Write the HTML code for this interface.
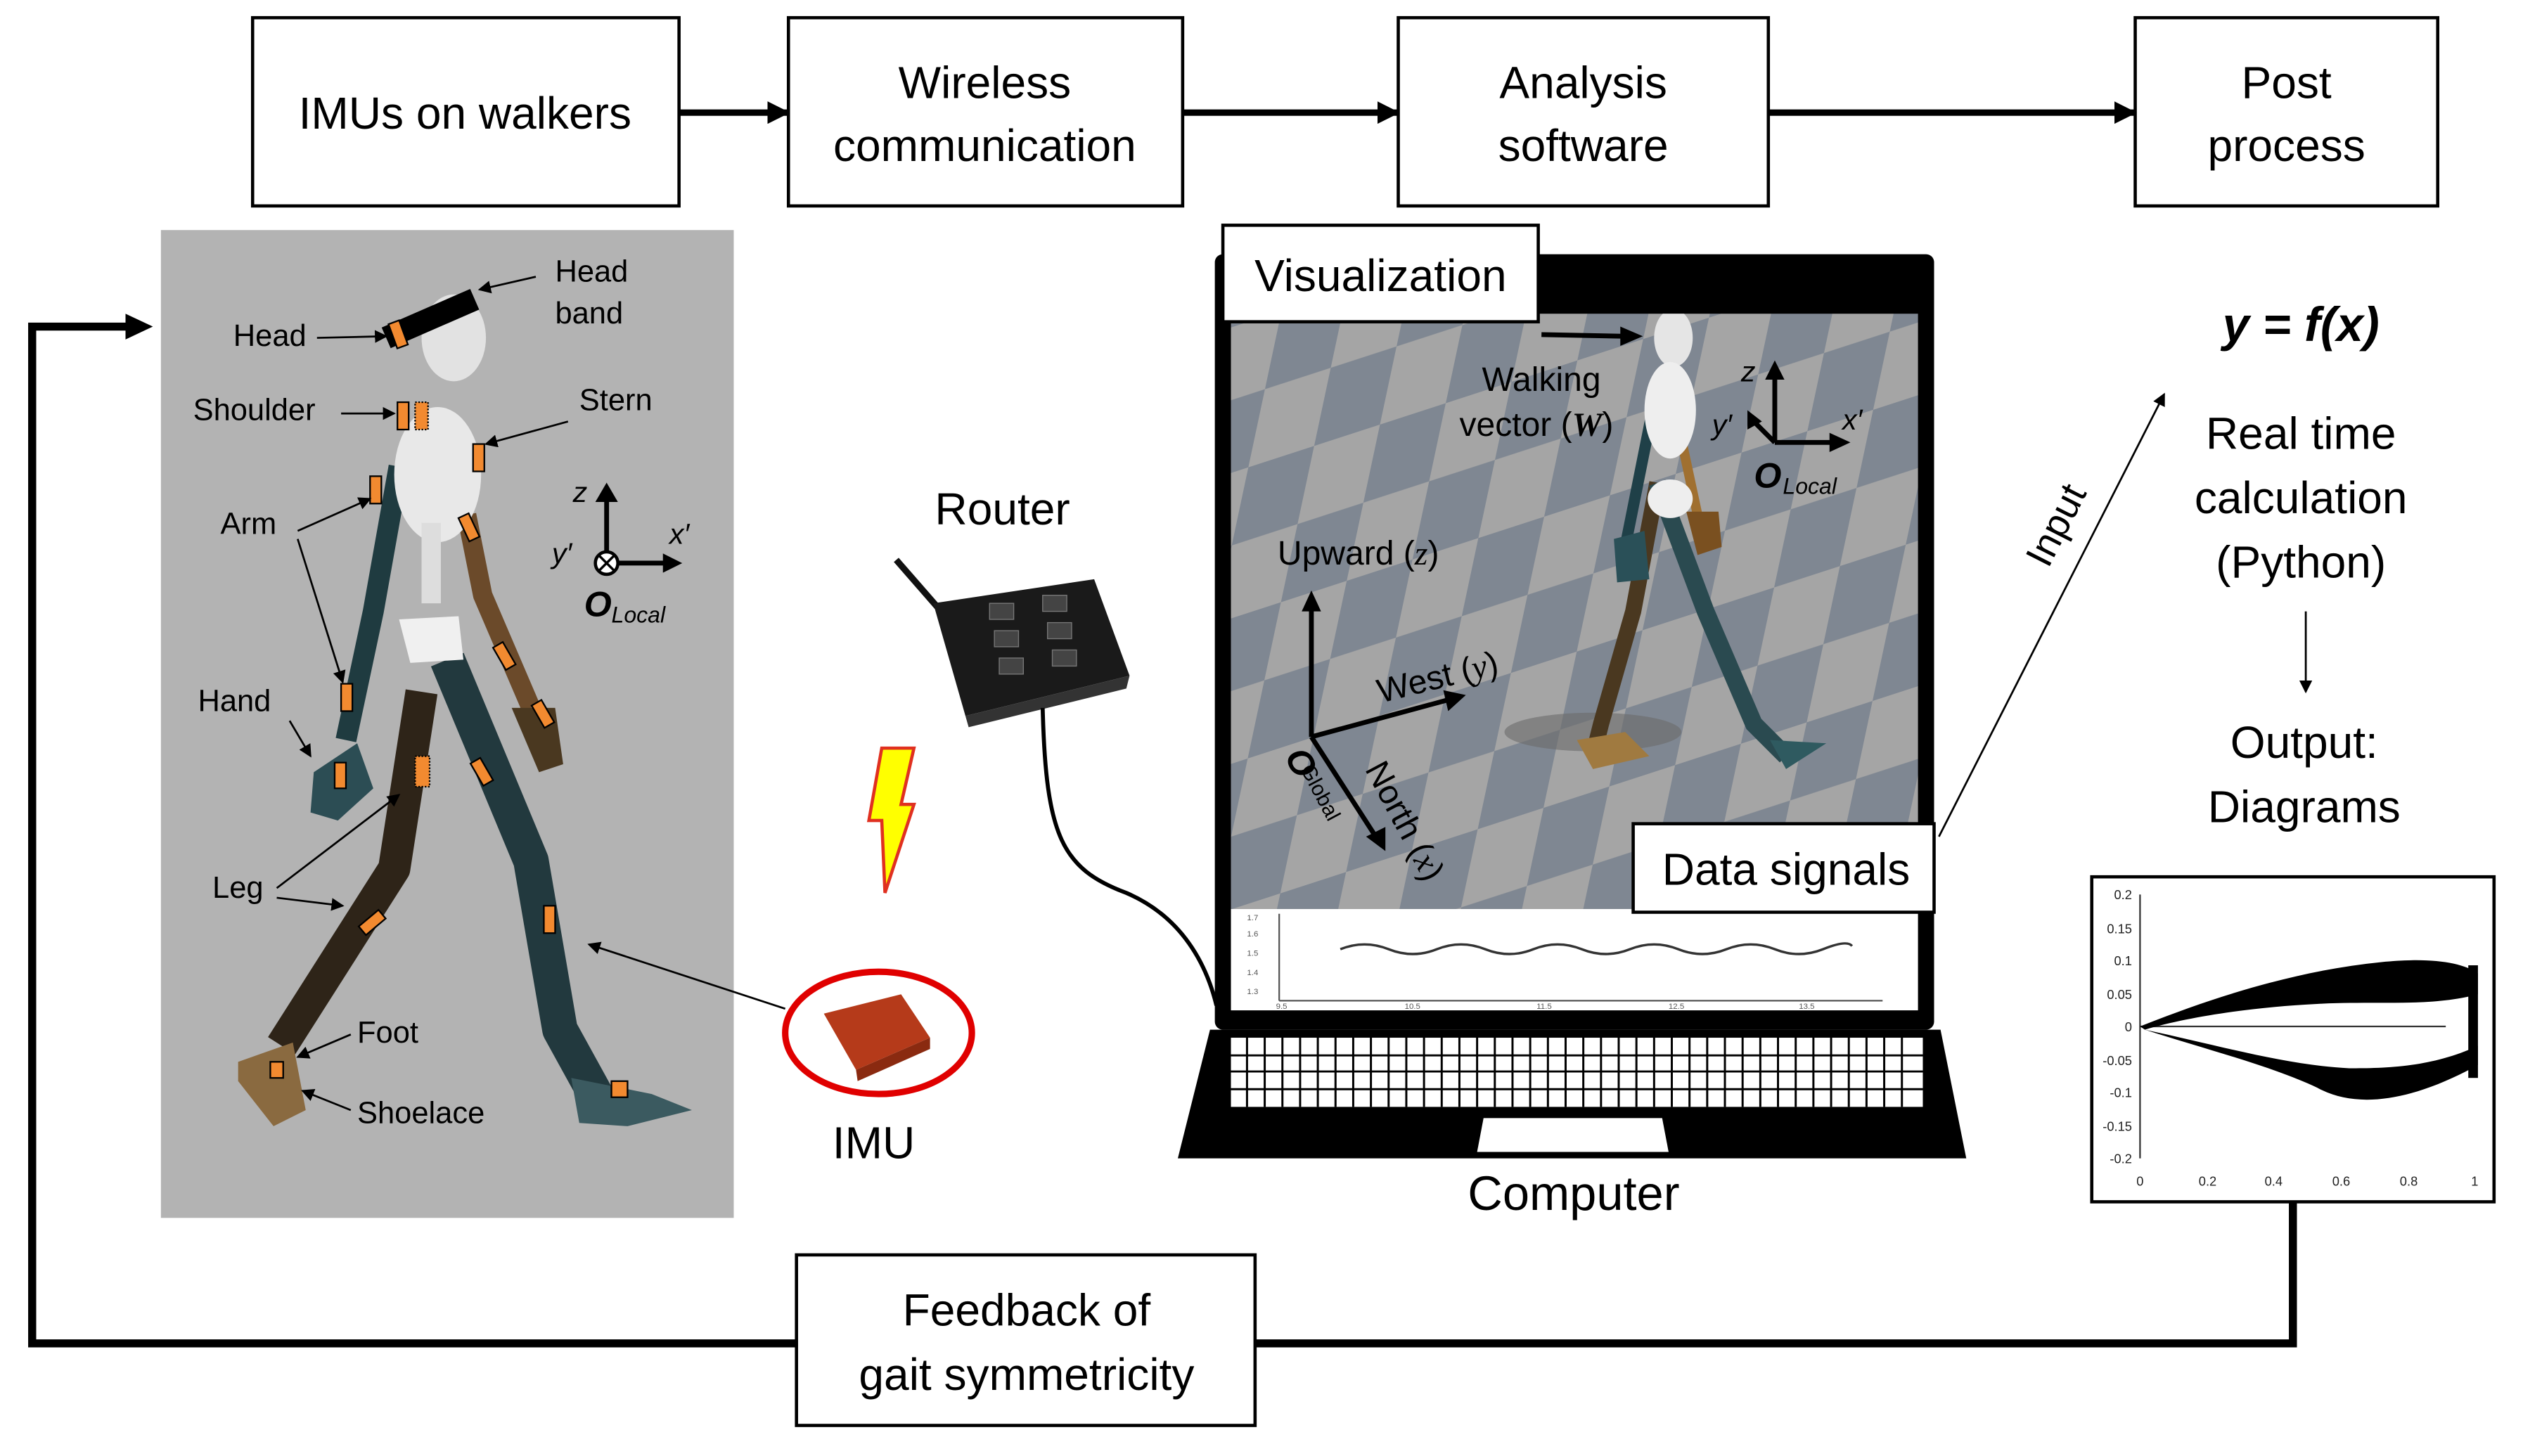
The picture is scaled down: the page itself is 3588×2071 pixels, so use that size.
<!DOCTYPE html>
<html><head><meta charset="utf-8"><style>
html,body{margin:0;padding:0;background:#fff;}
svg{display:block;}
text{font-family:"Liberation Sans",sans-serif;}
</style></head><body>
<svg xmlns="http://www.w3.org/2000/svg" width="3588" height="2071" viewBox="0 0 1568 905" preserveAspectRatio="none">
<defs>
<marker id="ah" markerWidth="8" markerHeight="8" refX="7" refY="4" orient="auto" markerUnits="userSpaceOnUse"><path d="M0,0 L8,4 L0,8 z" fill="#000"/></marker>
<marker id="ahb" markerWidth="14" markerHeight="14" refX="13" refY="7" orient="auto" markerUnits="userSpaceOnUse"><path d="M0,0 L14,7 L0,14 z" fill="#000"/></marker>
<pattern id="chk" width="86" height="86" patternUnits="userSpaceOnUse" patternTransform="rotate(-18) skewX(-30)">
<rect width="86" height="86" fill="#a5a5a5"/><rect width="43" height="43" fill="#7f8792"/><rect x="43" y="43" width="43" height="43" fill="#7f8792"/>
</pattern>
<clipPath id="scr"><rect x="765" y="195" width="427" height="370"/></clipPath>
</defs>

<!-- top flow boxes -->
<g fill="#fff" stroke="#000" stroke-width="2">
<rect x="157" y="11" width="265" height="117"/>
<rect x="490" y="11" width="245" height="117"/>
<rect x="869" y="11" width="230" height="117"/>
<rect x="1327" y="11" width="188" height="117"/>
</g>
<g stroke="#000" stroke-width="4" marker-end="url(#ahb)">
<line x1="422" y1="70" x2="490" y2="70"/>
<line x1="735" y1="70" x2="869" y2="70"/>
<line x1="1099" y1="70" x2="1327" y2="70"/>
</g>
<g font-size="28" text-anchor="middle" fill="#000">
<text x="289" y="80">IMUs on walkers</text>
<text x="612" y="61">Wireless</text><text x="612" y="100">communication</text>
<text x="984" y="61">Analysis</text><text x="984" y="100">software</text>
<text x="1421" y="61">Post</text><text x="1421" y="100">process</text>
</g>

<!-- feedback loop -->
<polyline points="1425,745 1425,835 20,835 20,203 80,203" fill="none" stroke="#000" stroke-width="5"/>
<path d="M78,195 L95,203 L78,211 z"/>
<rect x="495" y="780" width="285" height="106" fill="#fff" stroke="#000" stroke-width="2"/>
<g font-size="28" text-anchor="middle"><text x="638" y="824">Feedback of</text><text x="638" y="864">gait symmetricity</text></g>

<!-- left panel -->
<rect x="100" y="143" width="356" height="614" fill="#b3b3b3"/>
<g stroke-linejoin="round">
<polyline points="262,430 245,540 175,650" fill="none" stroke="#2e2418" stroke-width="20"/>
<polygon points="148,660 182,648 190,690 170,700 148,672" fill="#8a6a40"/>
<polyline points="278,410 330,535 348,640 370,680" fill="none" stroke="#22393e" stroke-width="22"/>
<polygon points="355,670 405,680 430,690 390,700 360,698" fill="#3b5a60"/>
<polyline points="248,290 232,380 215,460" fill="none" stroke="#1f3b40" stroke-width="13"/>
<polygon points="195,480 222,462 232,490 210,510 193,505" fill="#2c4d54"/>
<polyline points="290,320 300,370 330,440" fill="none" stroke="#6b4a2a" stroke-width="12"/>
<polygon points="318,440 345,440 350,475 335,480" fill="#4a3820"/>
<ellipse cx="282" cy="210" rx="20" ry="27" fill="#e2e2e2"/>
<ellipse cx="272" cy="295" rx="27" ry="42" fill="#e8e8e8"/>
<rect x="262" y="325" width="12" height="50" fill="#ddd"/>
<polygon points="248,385 285,383 288,410 255,412" fill="#f0f0f0"/>
<line x1="240" y1="210" x2="295" y2="186" stroke="#000" stroke-width="14"/>
</g>
<g fill="#f28a30" stroke="#000" stroke-width="1">
<rect x="244" y="200" width="7" height="16" transform="rotate(-20 247 208)"/>
<rect x="247" y="250" width="7" height="17"/><rect x="258" y="250" width="8" height="17" stroke-dasharray="1,1"/>
<rect x="294" y="276" width="7" height="17"/>
<rect x="230" y="296" width="7" height="17"/>
<rect x="288" y="320" width="7" height="16" transform="rotate(-25 291 328)"/>
<rect x="212" y="425" width="7" height="17"/>
<rect x="310" y="400" width="7" height="16" transform="rotate(-30 313 408)"/>
<rect x="334" y="436" width="7" height="16" transform="rotate(-30 337 444)"/>
<rect x="208" y="474" width="7" height="16"/>
<rect x="258" y="470" width="9" height="19" stroke-dasharray="1,1"/>
<rect x="296" y="472" width="7" height="16" transform="rotate(-30 299 480)"/>
<rect x="228" y="565" width="7" height="16" transform="rotate(50 231 573)"/>
<rect x="338" y="563" width="7" height="17"/>
<rect x="168" y="660" width="8" height="10"/>
<rect x="380" y="672" width="10" height="10"/>
</g>
<g font-size="19" fill="#000">
<text x="345" y="175">Head</text><text x="345" y="201">band</text>
<text x="145" y="215">Head</text>
<text x="120" y="261">Shoulder</text>
<text x="360" y="255">Stern</text>
<text x="137" y="332">Arm</text>
<text x="123" y="442">Hand</text>
<text x="132" y="558">Leg</text>
<text x="222" y="648">Foot</text>
<text x="222" y="698">Shoelace</text>
</g>
<g stroke="#000" stroke-width="1.2" marker-end="url(#ah)" fill="none">
<line x1="333" y1="172" x2="298" y2="180"/>
<line x1="197" y1="210" x2="240" y2="209"/>
<line x1="212" y1="257" x2="245" y2="257"/>
<line x1="353" y1="262" x2="302" y2="276"/>
<line x1="185" y1="330" x2="230" y2="310"/>
<line x1="185" y1="335" x2="213" y2="424"/>
<line x1="180" y1="448" x2="193" y2="470"/>
<line x1="172" y1="552" x2="248" y2="494"/>
<line x1="172" y1="558" x2="213" y2="563"/>
<line x1="218" y1="643" x2="185" y2="657"/>
<line x1="218" y1="690" x2="188" y2="678"/>
<line x1="488" y1="627" x2="366" y2="587"/>
</g>
<g stroke="#000" stroke-width="3">
<line x1="377" y1="350" x2="377" y2="310"/><line x1="377" y1="350" x2="415" y2="350"/>
</g>
<path d="M370,312 L377,300 L384,312 z M412,344 L424,350 L412,356 z"/>
<circle cx="377" cy="350" r="7" fill="#fff" stroke="#000" stroke-width="2"/>
<path d="M372,345 L382,355 M382,345 L372,355" stroke="#000" stroke-width="1.5"/>
<g font-family="Liberation Serif" font-style="italic" font-size="18">
<text x="356" y="312">z</text><text x="343" y="350">y′</text><text x="416" y="338">x′</text>
<text x="363" y="383" font-weight="bold" font-size="22">O</text><text x="380" y="387" font-size="14">Local</text>
</g>

<!-- router -->
<line x1="557" y1="348" x2="598" y2="395" stroke="#111" stroke-width="4"/>
<polygon points="580,375 680,360 702,420 600,445" fill="#1a1a1a"/>
<polygon points="600,445 702,420 700,428 602,452" fill="#333"/>
<g fill="#444" stroke="#777" stroke-width="0.6">
<rect x="615" y="375" width="15" height="10"/><rect x="648" y="370" width="15" height="10"/>
<rect x="618" y="392" width="15" height="10"/><rect x="651" y="387" width="15" height="10"/>
<rect x="621" y="409" width="15" height="10"/><rect x="654" y="404" width="15" height="10"/>
</g>
<text x="623" y="326" font-size="28" text-anchor="middle">Router</text>
<path d="M648,440 C650,520 660,540 700,555 C735,570 750,600 756,625" fill="none" stroke="#000" stroke-width="2.5"/>
<polygon points="548,465 568,465 560,500 568,500 550,555 548,510 540,510" fill="#ffff00" stroke="#e03020" stroke-width="2"/>
<ellipse cx="546" cy="642" rx="58" ry="38" fill="#fff" stroke="#e00000" stroke-width="4"/>
<polygon points="512,630 560,618 578,645 532,665" fill="#b53a1a"/>
<polygon points="532,665 578,645 578,652 533,672" fill="#8a2a10"/>
<text x="543" y="720" font-size="28" text-anchor="middle">IMU</text>

<!-- laptop -->
<rect x="755" y="158" width="447" height="482" rx="5" fill="#000"/>
<rect x="765" y="195" width="427" height="370" fill="url(#chk)"/>
<g clip-path="url(#scr)">
<ellipse cx="990" cy="455" rx="55" ry="12" fill="#6a6a6a" opacity="0.6"/>
<polyline points="1030,300 1015,380 995,450 990,470" fill="none" stroke="#4a3820" stroke-width="10"/>
<polyline points="1030,300 1060,380 1090,450 1110,470" fill="none" stroke="#2a4a50" stroke-width="11"/>
<polygon points="980,460 1010,455 1025,470 990,478" fill="#a07a40"/>
<polygon points="1100,460 1135,462 1110,478" fill="#2f5a60"/>
<line x1="1030" y1="240" x2="1010" y2="340" stroke="#1f4048" stroke-width="7"/>
<polygon points="1003,335 1022,330 1025,360 1005,362" fill="#2a5058"/>
<line x1="1040" y1="250" x2="1055" y2="320" stroke="#a07030" stroke-width="6"/>
<polygon points="1048,318 1068,318 1070,340 1055,345" fill="#7a5020"/>
<ellipse cx="1040" cy="210" rx="12" ry="18" fill="#e5e5e5"/>
<ellipse cx="1038" cy="255" rx="16" ry="30" fill="#eee"/>
<ellipse cx="1038" cy="310" rx="14" ry="12" fill="#eee"/>
</g>
<rect x="765" y="565" width="427" height="63" fill="#fff"/>
<line x1="795" y1="568" x2="795" y2="622" stroke="#555" stroke-width="1"/>
<line x1="795" y1="622" x2="1170" y2="622" stroke="#555" stroke-width="1"/>
<path d="M833,590 q15,-6 30,0 t30,0 t30,0 t30,0 t30,0 t30,0 t30,0 t30,0 t30,0 t30,0 t18,-2" fill="none" stroke="#333" stroke-width="1.5"/>
<g font-size="5" fill="#555" font-family="Liberation Serif"><text x="775" y="572">1.7</text><text x="775" y="582">1.6</text><text x="775" y="594">1.5</text><text x="775" y="606">1.4</text><text x="775" y="618">1.3</text>
<text x="793" y="627">9.5</text><text x="873" y="627">10.5</text><text x="955" y="627">11.5</text><text x="1037" y="627">12.5</text><text x="1118" y="627">13.5</text></g>
<polygon points="752,640 1206,640 1222,720 732,720" fill="#000"/>
<rect x="765" y="645" width="430" height="43" fill="#fff"/>
<g stroke="#000" stroke-width="1.3">
<line x1="765" y1="656" x2="1195" y2="656"/><line x1="765" y1="666" x2="1195" y2="666"/><line x1="765" y1="677" x2="1195" y2="677"/>
</g>
<g stroke="#000" stroke-width="1.3">
<line x1="775" y1="645" x2="775" y2="688"/><line x1="786" y1="645" x2="786" y2="688"/><line x1="797" y1="645" x2="797" y2="688"/><line x1="808" y1="645" x2="808" y2="688"/><line x1="819" y1="645" x2="819" y2="688"/><line x1="830" y1="645" x2="830" y2="688"/><line x1="841" y1="645" x2="841" y2="688"/><line x1="852" y1="645" x2="852" y2="688"/><line x1="863" y1="645" x2="863" y2="688"/><line x1="874" y1="645" x2="874" y2="688"/><line x1="885" y1="645" x2="885" y2="688"/><line x1="896" y1="645" x2="896" y2="688"/><line x1="907" y1="645" x2="907" y2="688"/><line x1="918" y1="645" x2="918" y2="688"/><line x1="929" y1="645" x2="929" y2="688"/><line x1="940" y1="645" x2="940" y2="688"/><line x1="951" y1="645" x2="951" y2="688"/><line x1="962" y1="645" x2="962" y2="688"/><line x1="973" y1="645" x2="973" y2="688"/><line x1="984" y1="645" x2="984" y2="688"/><line x1="995" y1="645" x2="995" y2="688"/><line x1="1006" y1="645" x2="1006" y2="688"/><line x1="1017" y1="645" x2="1017" y2="688"/><line x1="1028" y1="645" x2="1028" y2="688"/><line x1="1039" y1="645" x2="1039" y2="688"/><line x1="1050" y1="645" x2="1050" y2="688"/><line x1="1061" y1="645" x2="1061" y2="688"/><line x1="1072" y1="645" x2="1072" y2="688"/><line x1="1083" y1="645" x2="1083" y2="688"/><line x1="1094" y1="645" x2="1094" y2="688"/><line x1="1105" y1="645" x2="1105" y2="688"/><line x1="1116" y1="645" x2="1116" y2="688"/><line x1="1127" y1="645" x2="1127" y2="688"/><line x1="1138" y1="645" x2="1138" y2="688"/><line x1="1149" y1="645" x2="1149" y2="688"/><line x1="1160" y1="645" x2="1160" y2="688"/><line x1="1171" y1="645" x2="1171" y2="688"/><line x1="1182" y1="645" x2="1182" y2="688"/>
</g>
<polygon points="922,695 1033,695 1037,716 918,716" fill="#fff"/>
<text x="978" y="752" font-size="30" text-anchor="middle">Computer</text>

<g stroke="#000" stroke-width="3">
<line x1="815" y1="458" x2="815" y2="378"/>
<line x1="815" y1="458" x2="900" y2="435"/>
<line x1="815" y1="458" x2="855" y2="520"/>
<line x1="958" y1="208" x2="1010" y2="209"/>
<line x1="1103" y1="275" x2="1103" y2="232"/>
<line x1="1103" y1="275" x2="1140" y2="275"/>
<line x1="1103" y1="275" x2="1090" y2="262"/>
</g>
<path d="M809,380 L815,367 L821,380 z M897,429 L911,432 L900,442 z M849,520 L861,529 L861,514 z M1007,203 L1021,209 L1007,215 z M1097,236 L1103,224 L1109,236 z M1137,269 L1150,275 L1137,281 z M1086,255 L1086,267 L1095,262 z"/>
<g font-size="21" fill="#000">
<text x="794" y="351">Upward (<tspan font-family="Liberation Serif" font-style="italic">z</tspan>)</text>
<text x="858" y="437" transform="rotate(-14 858 437)">West (<tspan font-family="Liberation Serif" font-style="italic">y</tspan>)</text>
<text x="848" y="478" transform="rotate(62 848 478)">North (<tspan font-family="Liberation Serif" font-style="italic">x</tspan>)</text>
<text x="921" y="243">Walking</text>
<text x="907" y="271">vector (<tspan font-family="Liberation Serif" font-style="italic" font-weight="bold">W</tspan>)</text>
</g>
<g font-family="Liberation Serif" font-style="italic">
<text x="798" y="470" font-size="22" font-weight="bold" transform="rotate(62 798 470)">O</text>
<text x="808" y="478" font-size="13" transform="rotate(62 808 478)" font-style="normal">Global</text>
<text x="1082" y="237" font-size="18">z</text><text x="1064" y="270" font-size="18">y′</text><text x="1145" y="267" font-size="18">x′</text>
<text x="1090" y="303" font-size="22" font-weight="bold">O</text><text x="1108" y="307" font-size="14">Local</text>
</g>
<rect x="760" y="140" width="196" height="60" fill="#fff" stroke="#000" stroke-width="2"/>
<text x="858" y="181" font-size="28" text-anchor="middle">Visualization</text>
<rect x="1015" y="512" width="187" height="55" fill="#fff" stroke="#000" stroke-width="2"/>
<text x="1110" y="550" font-size="28" text-anchor="middle">Data signals</text>

<line x1="1205" y1="520" x2="1345" y2="245" stroke="#000" stroke-width="1.2" marker-end="url(#ah)"/>
<text x="1285" y="330" font-size="24" transform="rotate(-63 1285 330)" text-anchor="middle">Input</text>
<text x="1430" y="212" font-size="30" font-family="Liberation Serif" font-style="italic" font-weight="bold" text-anchor="middle">y = f(x)</text>
<g font-size="28" text-anchor="middle">
<text x="1430" y="279">Real time</text><text x="1430" y="319">calculation</text><text x="1430" y="359">(Python)</text>
<text x="1432" y="471">Output:</text><text x="1432" y="511">Diagrams</text>
</g>
<line x1="1433" y1="380" x2="1433" y2="430" stroke="#000" stroke-width="1.2" marker-end="url(#ah)"/>

<rect x="1300" y="545" width="250" height="202" fill="#fff" stroke="#000" stroke-width="2"/>
<g stroke="#333" stroke-width="1" fill="none">
<line x1="1330" y1="556" x2="1330" y2="720"/>
<line x1="1330" y1="638" x2="1520" y2="638"/>
</g>
<path d="M1330,638 C1380,618 1430,603 1480,598 C1510,595 1530,598 1540,605 L1540,618 C1510,626 1480,622 1440,624 C1400,626 1360,632 1333,640 z" fill="#000"/>
<path d="M1333,640 C1370,652 1410,662 1440,676 C1465,690 1500,684 1540,662 L1540,650 C1510,664 1480,664 1460,664 C1420,662 1380,650 1333,640 z" fill="#000"/>
<rect x="1534" y="600" width="6" height="70" fill="#000"/>
<g font-family="Liberation Serif" font-size="8" text-anchor="end" fill="#222">
<text x="1325" y="559">0.2</text><text x="1325" y="580">0.15</text><text x="1325" y="600">0.1</text><text x="1325" y="621">0.05</text><text x="1325" y="641">0</text><text x="1325" y="662">-0.05</text><text x="1325" y="682">-0.1</text><text x="1325" y="703">-0.15</text><text x="1325" y="723">-0.2</text>
</g>
<g font-family="Liberation Serif" font-size="8" text-anchor="middle" fill="#222">
<text x="1330" y="737">0</text><text x="1372" y="737">0.2</text><text x="1413" y="737">0.4</text><text x="1455" y="737">0.6</text><text x="1497" y="737">0.8</text><text x="1538" y="737">1</text>
</g>
</svg>
</body></html>
